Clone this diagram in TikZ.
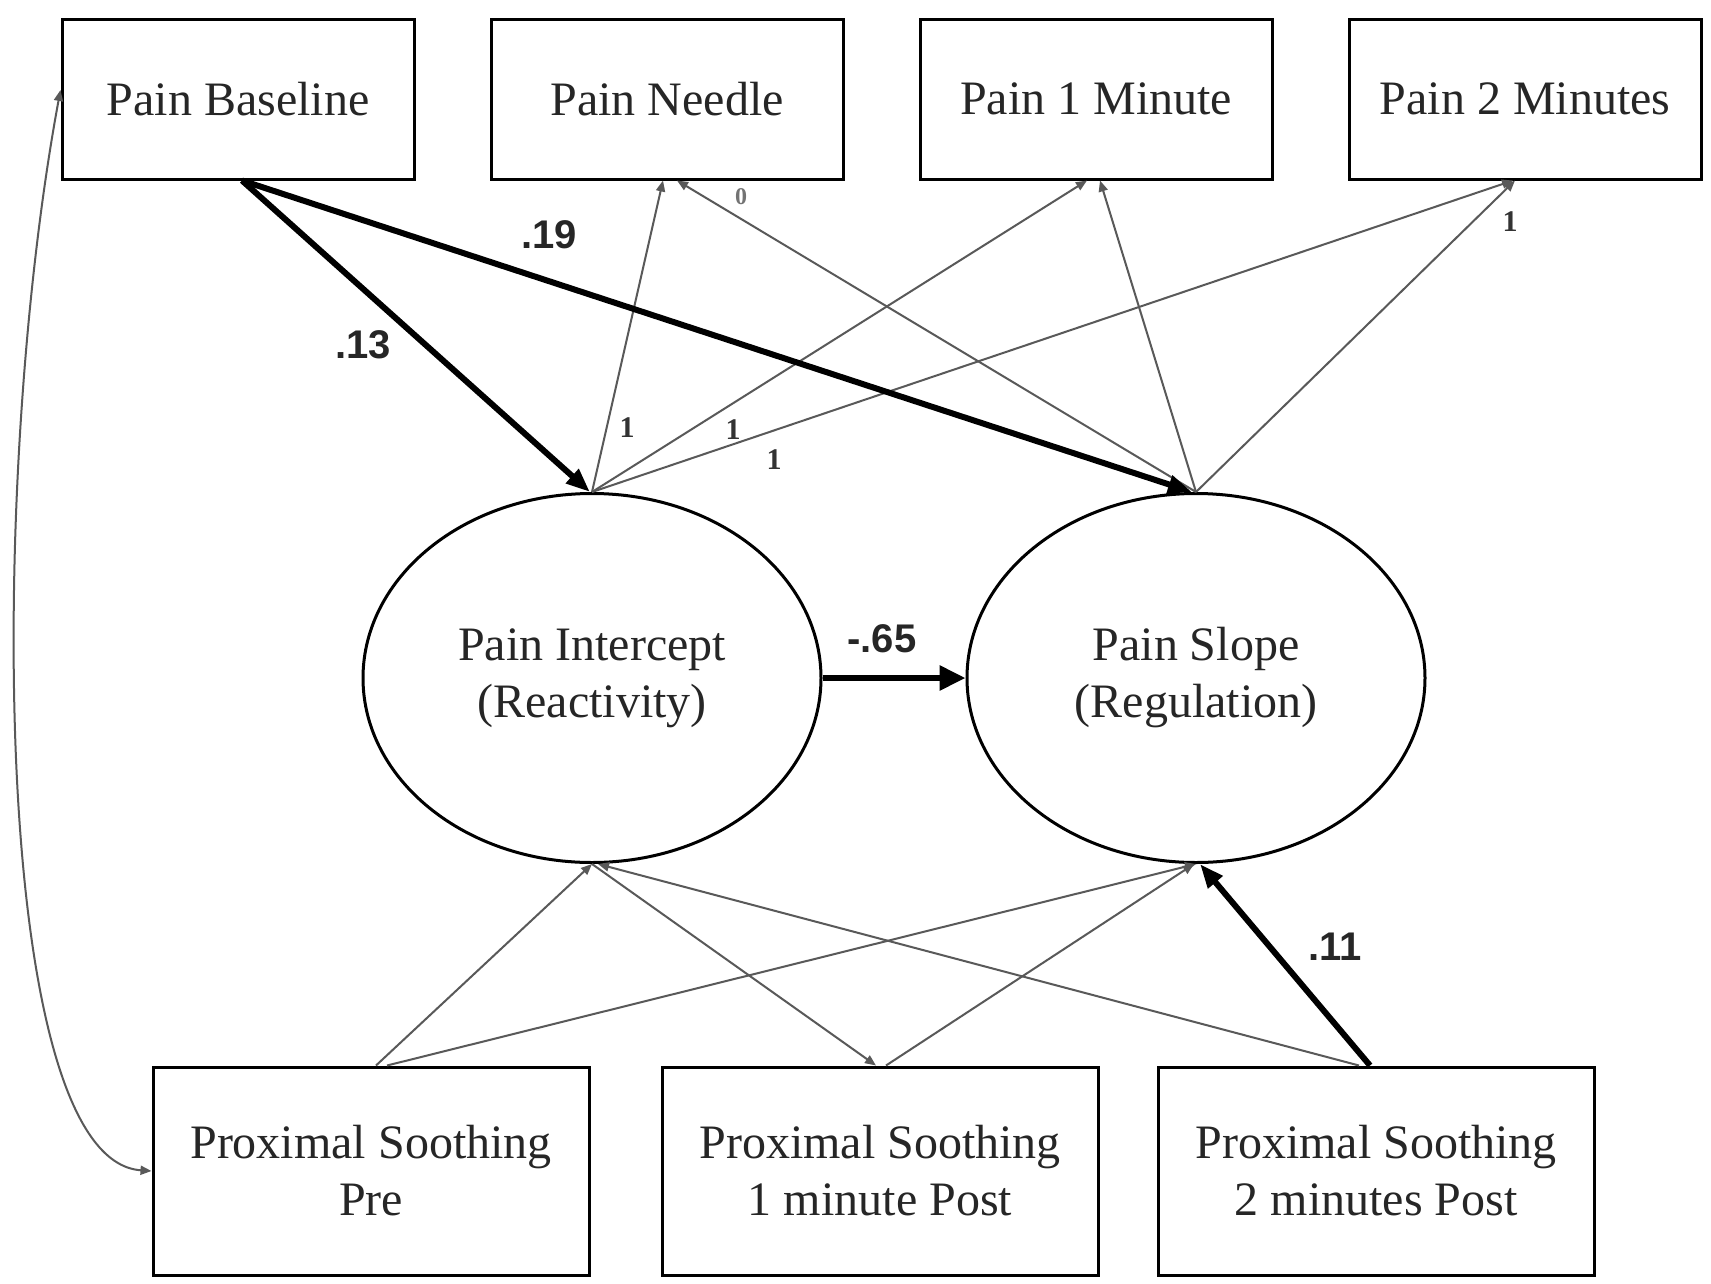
\documentclass[tikz,border=0pt]{standalone}
\usepackage{fontspec}
\setmainfont{Liberation Serif}
\newfontfamily\labelfont{Liberation Sans}
\usetikzlibrary{arrows.meta,shapes.geometric,calc}

\tikzset{
  obsbox/.style={draw, line width=3pt, rectangle, inner sep=0pt, align=center,
    font=\fontsize{48}{57}\selectfont, text=black!85},
  topbox/.style={obsbox, minimum width=352pt, minimum height=160pt},
  botbox/.style={obsbox, minimum width=436pt, minimum height=208pt},
  latent/.style={draw, line width=3pt, ellipse, inner sep=0pt, align=center,
    minimum width=458pt, minimum height=369pt,
    font=\fontsize{48}{57}\selectfont, text=black!85},
  thin/.style={draw=black!65, line width=2pt,
    -{Triangle[length=11pt,width=9pt]}},
  bold/.style={draw=black, line width=6pt,
    -{Triangle[length=24pt,width=18pt]}},
  coef/.style={font=\labelfont\bfseries\fontsize{40}{44}\selectfont, text=black!85},
  fixed/.style={font=\bfseries\fontsize{30}{32}\selectfont, text=black!80},
}

\begin{document}
\begin{tikzpicture}[x=1pt, y=-1pt]
\useasboundingbox[fill=white] (0,0) rectangle (1711,1283);

% observed pain measures
\node[topbox] (pb) at (238,99)  {Pain Baseline};
\node[topbox] (pn) at (667,99)  {Pain Needle};
\node[topbox] (p1) at (1096,99) {Pain 1 Minute};
\node[topbox] (p2) at (1525,99) {Pain 2 Minutes};

% latent growth factors
\node[latent] (ip) at (592,678)  {Pain Intercept\\(Reactivity)};
\node[latent] (sp) at (1196,678) {Pain Slope\\(Regulation)};

% soothing covariates
\node[botbox] (pre) at (371,1171)  {Proximal Soothing\\Pre};
\node[botbox] (m1)  at (880,1171)  {Proximal Soothing\\1 minute Post};
\node[botbox] (m2)  at (1376,1171) {Proximal Soothing\\2 minutes Post};

% intercept loadings
\draw[thin] (ip.north) -- ([xshift=-4pt]pn.south);
\draw[thin] (ip.north) -- ([xshift=-9pt]p1.south);
\draw[thin] (ip.north) -- ([xshift=-12pt]p2.south);

% slope loadings
\draw[thin] (sp.north) -- ([xshift=10pt]pn.south);
\draw[thin] (sp.north) -- ([xshift=4pt]p1.south);
\draw[thin] (sp.north) -- ([xshift=-10pt]p2.south);

% loading values
\node[fixed] (l1) at (627,428) {1};
\node[fixed] (l2) at (733,430) {1};
\node[fixed] (l3) at (774,460) {1};
\node[fixed] (l4) at (1510,222) {1};
\node[font=\bfseries\fontsize{24}{26}\selectfont, text=black!55] (l0) at (741,197) {0};

% baseline pain predicting growth factors
\draw[bold] ([xshift=4pt]pb.south) -- ([xshift=-2pt]ip.north);
\draw[bold] ([xshift=4pt]pb.south) -- ([xshift=-4pt]sp.north);
\node[coef] (c13) at (363,345) {.13};
\node[coef] (c19) at (549,235) {.19};

% intercept to slope
\draw[bold, -{Triangle[length=26pt,width=24pt]}] (ip.east) -- (sp.west);
\node[coef] (c65) at (882,639) {-.65};

% soothing paths
\draw[thin] ([xshift=5pt]pre.north) -- (ip.south);
\draw[thin] ([xshift=16pt]pre.north) -- (sp.south);
\draw[thin] (ip.south) -- ([xshift=-4pt]m1.north);
\draw[thin] ([xshift=6pt]m1.north) -- ([xshift=-2pt]sp.south);
\draw[thin] ([xshift=-17pt]m2.north) -- ([xshift=6pt]ip.south);
\draw[bold] ([xshift=-6pt]m2.north) -- ([xshift=4pt]sp.south);
\node[coef] (c11) at (1335,947) {.11};

% covariance between baseline pain and pre soothing
\draw[draw=black!65, line width=2pt,
      {Triangle[length=11pt,width=9pt]}-{Triangle[length=11pt,width=9pt]}]
  ([yshift=9pt]pb.west) .. controls (-12,480) and (-10,1160) .. (pre.west);
\end{tikzpicture}
\end{document}
